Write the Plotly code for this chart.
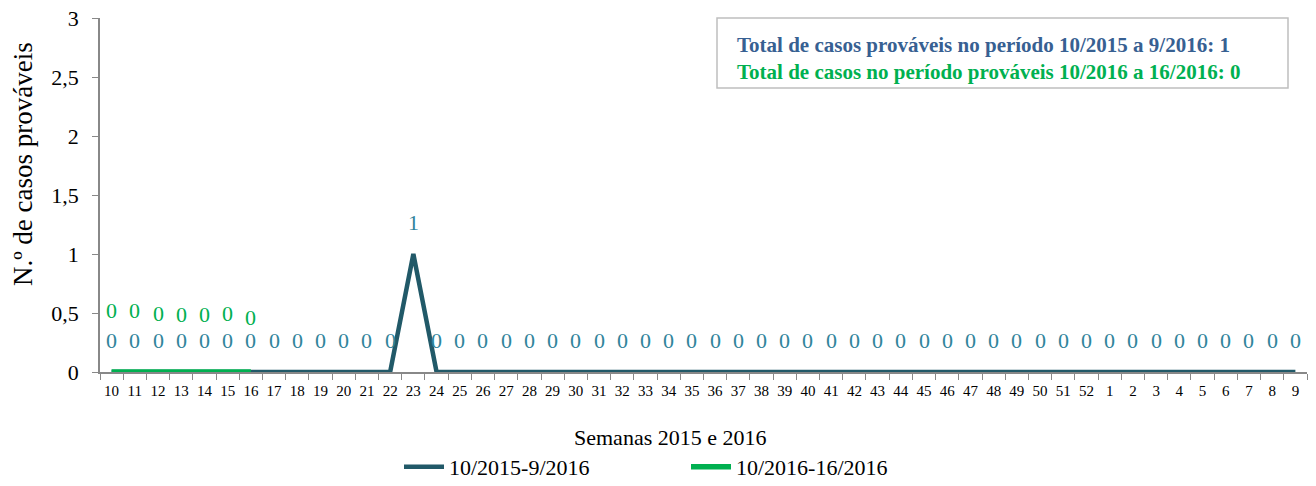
import plotly.graph_objects as go

weeks = [str(w) for w in list(range(10, 53)) + list(range(1, 10))]
cases_2015_2016 = [0] * len(weeks)
cases_2015_2016[weeks.index("23")] = 1
weeks_2016 = [str(w) for w in range(10, 17)]
cases_2016 = [0, 0, 0, 0, 0, 0, 0]

series1_name = "10/2015-9/2016"
series2_name = "10/2016-16/2016"
y_title = "N.º de casos prováveis"
x_title = "Semanas 2015 e 2016"
box_line1 = "Total de casos prováveis no período 10/2015 a 9/2016: 1"
box_line2 = "Total de casos no período prováveis 10/2016 a 16/2016: 0"

C1 = "#215968"
C1_LABEL = "#31849B"
C2 = "#00B050"
BOX_BLUE = "#376092"
FONT = "Liberation Serif"

green_shift = [62, 62, 59, 58, 58, 59, 55]

fig = go.Figure()
fig.add_trace(go.Scatter(x=weeks, y=cases_2015_2016, mode="lines", name=series1_name,
                         line=dict(color=C1, width=4.5)))
fig.add_trace(go.Scatter(x=weeks_2016, y=cases_2016, mode="lines", name=series2_name,
                         line=dict(color=C2, width=5.5)))

annotations = []
for w, v in zip(weeks, cases_2015_2016):
    annotations.append(dict(x=weeks.index(w), y=v, xref="x", yref="y", text=str(v),
                            showarrow=False, yshift=32,
                            font=dict(family=FONT, size=22, color=C1_LABEL)))
for w, v, s in zip(weeks_2016, cases_2016, green_shift):
    annotations.append(dict(x=weeks.index(w), y=v, xref="x", yref="y", text=str(v),
                            showarrow=False, yshift=s,
                            font=dict(family=FONT, size=22, color=C2)))

L, R, T, B = 100, 9, 18, 114
W, H = 1316, 486
pw, ph = W - L - R, H - T - B

def px(xp):
    return (xp - L) / pw

def py(yp):
    return (H - B - yp) / ph

annotations.append(dict(x=px(23), y=py(164), xref="paper", yref="paper", text=y_title,
                        textangle=-90, showarrow=False, xanchor="center", yanchor="middle",
                        font=dict(family=FONT, size=27, color="#000")))
annotations.append(dict(x=px(670), y=py(437), xref="paper", yref="paper", text=x_title,
                        showarrow=False, xanchor="center", yanchor="middle",
                        font=dict(family=FONT, size=22, color="#000")))
annotations.append(dict(x=px(735), y=py(31), xref="paper", yref="paper",
                        text=f"<b><span style='color:{BOX_BLUE}'>{box_line1}</span><br>"
                             f"<span style='color:{C2}'>{box_line2}</span></b>",
                        showarrow=False, xanchor="left", yanchor="top", align="left",
                        font=dict(family=FONT, size=21)))

fig.add_shape(type="rect", xref="paper", yref="paper", x0=px(717), x1=px(1288),
              y0=py(88), y1=py(18), line=dict(color="#BFBFBF", width=1.5), fillcolor="white",
              layer="below")

fig.update_layout(
    width=W, height=H,
    margin=dict(l=L, r=R, t=T, b=B, autoexpand=False),
    paper_bgcolor="white", plot_bgcolor="white",
    separators=",.",
    showlegend=True,
    legend=dict(orientation="h", x=px(399), xanchor="left", y=py(467), yanchor="middle",
                font=dict(family=FONT, size=22, color="#000"), entrywidth=232,
                entrywidthmode="pixels", itemwidth=40),
    annotations=annotations,
    font=dict(family=FONT),
)
fig.update_xaxes(type="category", range=[-0.5, len(weeks) - 0.5], showline=True,
                 linecolor="#888", linewidth=1.5, ticks="outside", tickcolor="#888",
                 ticklen=6, tickson="boundaries", showgrid=False, zeroline=False,
                 automargin=False, ticklabelstandoff=4,
                 tickfont=dict(family=FONT, size=15, color="#000"), tickangle=0)
fig.update_yaxes(range=[0, 3], dtick=0.5, showline=True, linecolor="#888", linewidth=1.5,
                 ticks="outside", tickcolor="#888", ticklen=6, showgrid=False, zeroline=False,
                 automargin=False, ticklabelstandoff=9,
                 tickfont=dict(family=FONT, size=22, color="#000"))

fig.write_html("out.html", config={"displayModeBar": False},
               post_script="document.body.style.margin='0';")
